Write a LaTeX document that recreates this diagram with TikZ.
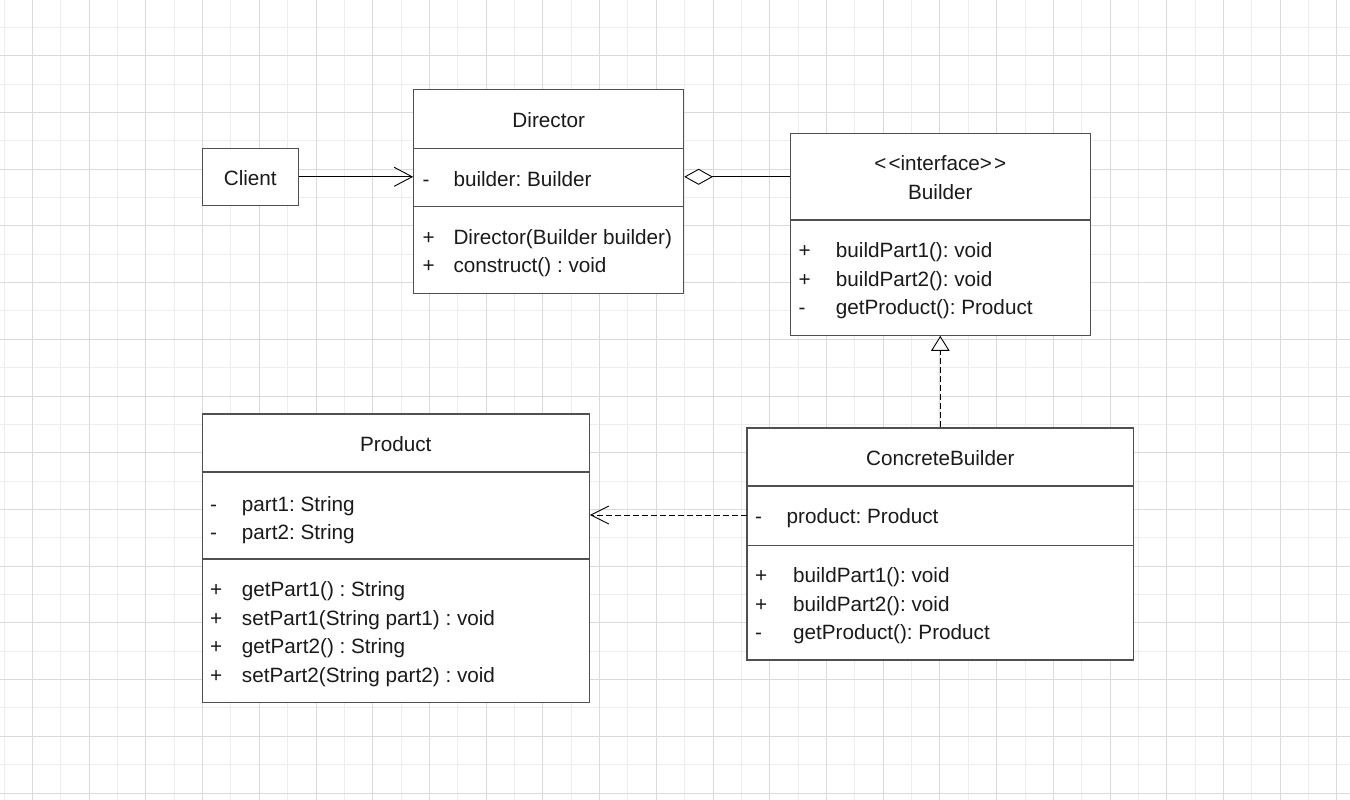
\documentclass[tikz,border=0pt]{standalone}
\usepackage{fontspec}
\newfontfamily\umlfamily{Liberation Sans}
\usetikzlibrary{arrows.meta}

\newcommand\umlfont{\umlfamily\fontsize{20.7pt}{25pt}\selectfont\frenchspacing}
\definecolor{gridlight}{HTML}{EDEDED}
\definecolor{griddark}{HTML}{DADADA}
\definecolor{boxline}{HTML}{505050}
\definecolor{ink}{HTML}{1A1A1A}

\tikzset{
	classbox/.style={draw=boxline, line width=1.1pt, fill=white, inner sep=0pt},
	divider/.style={draw=boxline, line width=1.1pt},
	classname/.style={anchor=base, inner sep=0pt, font=\umlfont, text=ink},
	member/.style={anchor=base west, inner sep=0pt, font=\umlfont, text=ink},
	assoc/.style={-{Straight Barb[length=18pt,width=19pt]}, line width=0.9pt},
	aggr/.style={{Diamond[length=28.7pt,width=16pt,fill=white]}-, line width=0.9pt},
	realize/.style={-{Triangle[length=15pt,width=18.5pt,fill=white]}, line width=0.9pt, dash pattern=on 6pt off 3pt},
	depend/.style={-{Straight Barb[length=18pt,width=18pt]}, line width=0.9pt, dash pattern=on 6pt off 3pt}
}

\begin{document}
\begin{tikzpicture}[x=1pt,y=-1pt]
	\useasboundingbox (0,0) rectangle (1350,800);
	\fill[white] (0,0) rectangle (1350,800);
	% grid
	\foreach \k in {0,...,23} {
		\draw[gridlight, line width=0.9pt] (4+\k*56.72,0) -- (4+\k*56.72,800);
	}
	\foreach \k in {0,...,13} {
		\draw[gridlight, line width=0.9pt] (0,27.3+\k*56.72) -- (1350,27.3+\k*56.72);
	}
	\foreach \k in {0,...,23} {
		\draw[griddark, line width=0.9pt] (32.36+\k*56.72,0) -- (32.36+\k*56.72,800);
	}
	\foreach \k in {0,...,13} {
		\draw[griddark, line width=0.9pt] (0,55.66+\k*56.72) -- (1350,55.66+\k*56.72);
	}

	% Client
	\node[classbox, minimum width=96pt, minimum height=57pt] (client) at (250.3,176.8) {};
	\node[classname] (client-name) at (250.3,185.3) {Client};

	% Director
	\node[classbox, minimum width=270pt, minimum height=203.6pt] (director) at (548.7,191.5) {};
	\draw[divider] (director.west |- 0,148.3) -- (director.east |- 0,148.3);
	\draw[divider] (director.west |- 0,206.7) -- (director.east |- 0,206.7);
	\node[classname] (director-name) at (548.7,127.3) {Director};
	\node[member] (director-as1) at (422.3,186) {-};
	\node[member] (director-a1) at (453.3,186) {builder: Builder};
	\foreach \t [count=\i] in {Director(Builder builder), construct() : void} {
		\node[member] (director-ms\i) at (422.3,244.3+\i*28.4-28.4) {+};
		\node[member] (director-m\i) at (453.3,244.3+\i*28.4-28.4) {\t};
	}

	% Builder
	\node[classbox, minimum width=300pt, minimum height=202pt] (builder) at (940.3,234.3) {};
	\draw[divider] (builder.west |- 0,220) -- (builder.east |- 0,220);
	\node[classname] (builder-stereo) at (940.3,170.7) {<\kern2pt<interface>\kern2pt>};
	\node[classname] (builder-name) at (940.3,199.3) {Builder};
	\foreach \s/\t [count=\i] in {+/buildPart1(): void, +/buildPart2(): void, -/getProduct(): Product} {
		\node[member] (builder-ms\i) at (798.3,257.7+\i*28.6-28.6) {\s};
		\node[member] (builder-m\i) at (835.7,257.7+\i*28.6-28.6) {\t};
	}

	% Product
	\node[classbox, minimum width=387pt, minimum height=288.7pt] (product) at (395.8,558.35) {};
	\draw[divider] (product.west |- 0,472) -- (product.east |- 0,472);
	\draw[divider] (product.west |- 0,559) -- (product.east |- 0,559);
	\node[classname] (product-name) at (395.8,451) {Product};
	\foreach \t [count=\i] in {part1: String, part2: String} {
		\node[member] (product-as\i) at (210,511+\i*28.4-28.4) {-};
		\node[member] (product-a\i) at (241.7,511+\i*28.4-28.4) {\t};
	}
	\foreach \t [count=\i] in {getPart1() : String, setPart1(String part1) : void, getPart2() : String, setPart2(String part2) : void} {
		\node[member] (product-ms\i) at (210,596.7+\i*28.55-28.55) {+};
		\node[member] (product-m\i) at (241.7,596.7+\i*28.55-28.55) {\t};
	}

	% ConcreteBuilder
	\node[classbox, minimum width=386.6pt, minimum height=232pt] (concrete) at (940.3,544) {};
	\draw[divider] (concrete.west |- 0,486) -- (concrete.east |- 0,486);
	\draw[divider] (concrete.west |- 0,545.3) -- (concrete.east |- 0,545.3);
	\node[classname] (concrete-name) at (940.3,465.7) {ConcreteBuilder};
	\node[member] (concrete-as1) at (755,523.3) {-};
	\node[member] (concrete-a1) at (786.4,523.3) {product: Product};
	\foreach \s/\t [count=\i] in {+/buildPart1(): void, +/buildPart2(): void, -/getProduct(): Product} {
		\node[member] (concrete-ms\i) at (755,582.7+\i*28.3-28.3) {\s};
		\node[member] (concrete-m\i) at (792.9,582.7+\i*28.3-28.3) {\t};
	}

	% relations
	\coordinate (concrete-link) at (747,515);
	\draw[assoc] (client.east) -- (client.east -| director.west);
	\draw[aggr] (client.east -| director.east) -- (client.east -| builder.west);
	\draw[realize] (concrete.north) -- (concrete.north |- builder.south);
	\draw[depend] (concrete-link) -- (concrete-link -| product.east);
\end{tikzpicture}
\end{document}
